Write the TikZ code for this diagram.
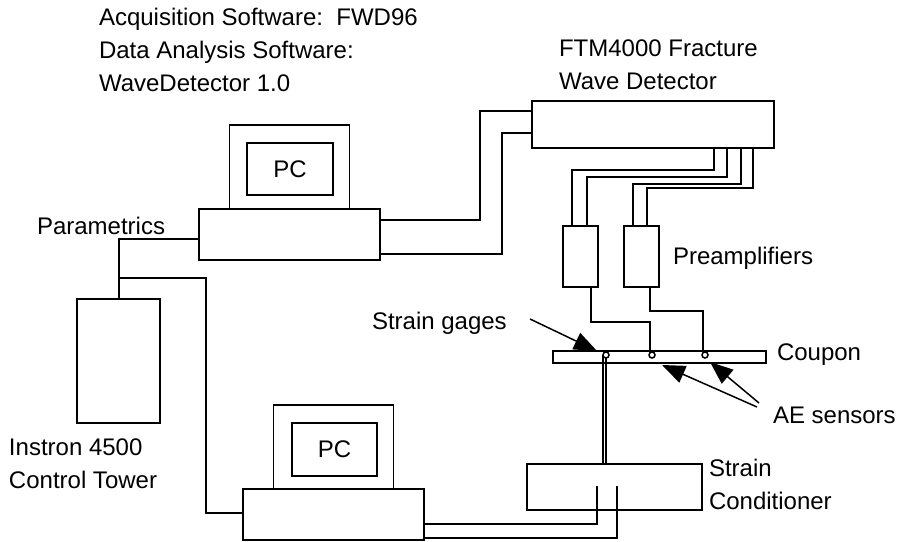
\documentclass[tikz,border=0pt]{standalone}
\usepackage{fontspec}
\setmainfont{Liberation Sans}
\usetikzlibrary{positioning,arrows.meta}
\tikzset{
box/.style={draw,fill=white,inner sep=0pt,outer sep=0pt},
label/.style={inner sep=0pt,outer sep=0pt,align=left,anchor=west,font=\fontsize{24}{33}\selectfont},
sensor/.style={draw,circle,fill=white,inner sep=0pt,outer sep=0pt,minimum size=6pt},
wire/.style={line join=miter}
}
\begin{document}
\begin{tikzpicture}[x=1pt,y=-1pt,line width=1.5pt]
\useasboundingbox (0,0) rectangle (899,541);

\node[label] (software) at (99,50) {Acquisition Software:\ \ FWD96\\Data Analysis Software:\\WaveDetector 1.0};
\node[label] (ftmlabel) at (559,65) {FTM4000 Fracture\\Wave Detector};
\node[label] (parametrics) at (37,226) {Parametrics};
\node[label] (instron) at (9,464) {Instron 4500\\Control Tower};
\node[label] (preamps) at (673,258) {Preamplifiers};
\node[label] (gages) at (372,323) {Strain gages};
\node[label] (coupon) at (777,355) {Coupon};
\node[label] (ae) at (773,415) {AE sensors};
\node[label] (condlabel) at (709,484) {Strain\\Conditioner};

\node[box,minimum width=181pt,minimum height=51pt] (base1) at (289.5,234.5) {};
\node[box,minimum width=120pt,minimum height=84pt] (mon1) [above=0pt of base1] {};
\node[box,minimum width=86pt,minimum height=52pt,font=\fontsize{24}{28}\selectfont] (pc1) at (290,169) {PC};
\node[box,minimum width=181pt,minimum height=51pt] (base2) at (333.5,514.5) {};
\node[box,minimum width=120pt,minimum height=84pt] (mon2) [above=0pt of base2] {};
\node[box,minimum width=85pt,minimum height=53pt,font=\fontsize{24}{28}\selectfont] (pc2) at (334.5,449.5) {PC};
\node[box,minimum width=83pt,minimum height=124pt] (tower) at (118.5,361) {};
\node[box,minimum width=242pt,minimum height=47pt] (ftm) at (653,124.5) {};
\node[box,minimum width=35pt,minimum height=61pt] (pre1) at (580.5,256.5) {};
\node[box,minimum width=35pt,minimum height=61pt] (pre2) [right=26pt of pre1] {};
\node[box,minimum width=213pt,minimum height=12pt] (bar) at (659.5,357) {};
\node[box,minimum width=175pt,minimum height=46pt] (cond) at (614.5,487) {};
\node[sensor] (s1) at (606,355) {};
\node[sensor] (s2) at (652,355) {};
\node[sensor] (s3) at (705,355) {};

\coordinate (a1) at (480,220);
\coordinate (a2) at (480,111);
\coordinate (b1) at (502,254);
\coordinate (b2) at (502,133);
\coordinate (c1) at (714,170);
\coordinate (c2) at (572,170);
\coordinate (d1) at (727,177);
\coordinate (d2) at (587,177);
\coordinate (e1) at (741,184);
\coordinate (e2) at (633,184);
\coordinate (f1) at (753,188);
\coordinate (f2) at (647,188);
\coordinate (g1) at (591,322);
\coordinate (g2) at (650,322);
\coordinate (h1) at (650,311);
\coordinate (h2) at (703,311);
\coordinate (i1) at (119,239);
\coordinate (i2) at (119,278);
\coordinate (j1) at (206,278);
\coordinate (j2) at (206,513);
\coordinate (k1) at (597,486);
\coordinate (k2) at (597,524);
\coordinate (l1) at (617,486);
\coordinate (l2) at (617,538);

\draw[wire] (base1.east |- a1) -- (a1) -- (a2) -- (ftm.west |- a2);
\draw[wire] (base1.east |- b1) -- (b1) -- (b2) -- (ftm.west |- b2);
\draw[wire] (ftm.south -| c1) -- (c1) -- (c2) -- (pre1.north -| c2);
\draw[wire] (ftm.south -| d1) -- (d1) -- (d2) -- (pre1.north -| d2);
\draw[wire] (ftm.south -| e1) -- (e1) -- (e2) -- (pre2.north -| e2);
\draw[wire] (ftm.south -| f1) -- (f1) -- (f2) -- (pre2.north -| f2);
\draw[wire] (pre1.south -| g1) -- (g1) -- (g2) -- (s2.north -| g2);
\draw[wire] (pre2.south -| h1) -- (h1) -- (h2) -- (s3.north -| h2);
\draw[wire] (base1.west |- i1) -- (i1) -- (tower.north -| i1);
\draw[wire] (i2) -- (j1) -- (j2) -- (base2.west |- j2);
\draw[wire] (s1.west) -- (cond.north -| s1.west);
\draw[wire] (s1.south) -- (cond.north -| s1.south);
\draw[wire] (k1) -- (k2) -- (base2.east |- k2);
\draw[wire] (l1) -- (l2) -- (base2.east |- l2);

\coordinate (m1) at (530,319);
\coordinate (m2) at (597,351);
\coordinate (n1) at (757,407);
\coordinate (n2) at (662,365);
\coordinate (o1) at (759,403);
\coordinate (o2) at (710,362);
\path[-{Triangle[length=23pt,width=18pt]}]
(m1) edge (m2)
(n1) edge (n2)
(o1) edge (o2)
;
\end{tikzpicture}
\end{document}
